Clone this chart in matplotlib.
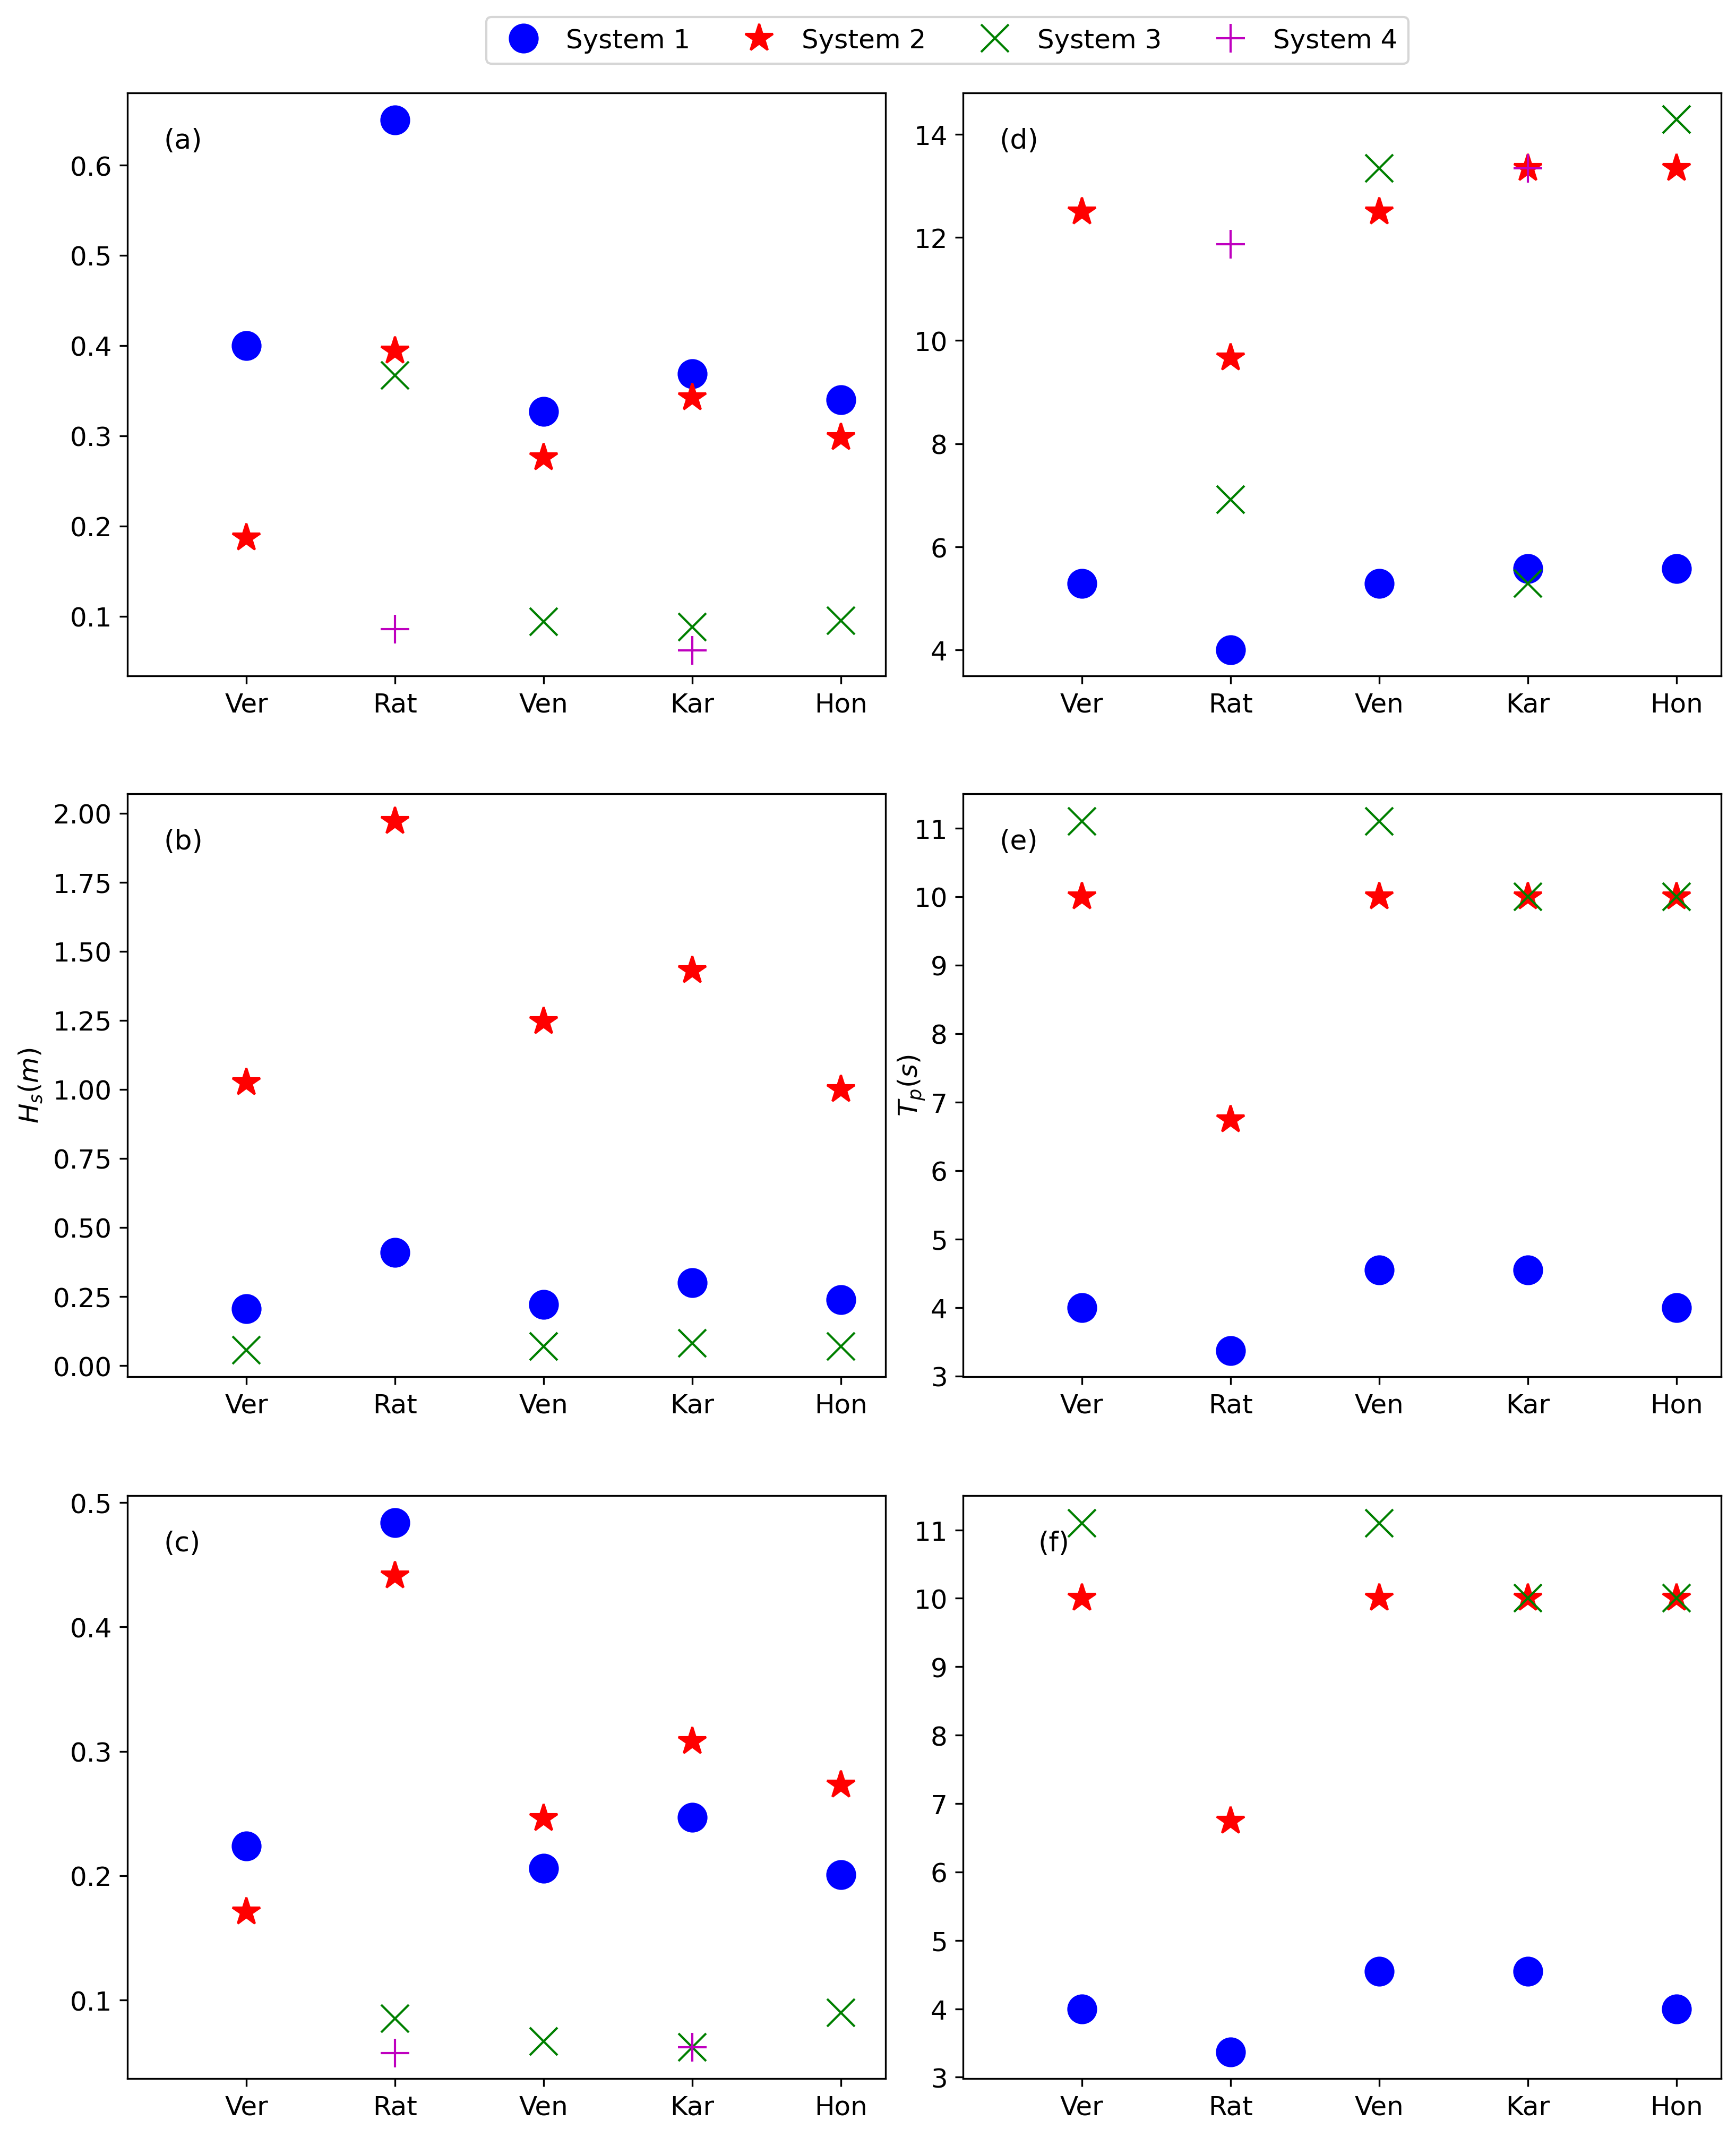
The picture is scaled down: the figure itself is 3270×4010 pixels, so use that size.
import numpy as np
import matplotlib
matplotlib.use("Agg")
import matplotlib.pyplot as plt

nan = np.nan
sites = ["Ver", "Rat", "Ven", "Kar", "Hon"]
systems = ["System 1", "System 2", "System 3", "System 4"]

# Panel (a)
a_s1 = [0.40, 0.65, 0.327, 0.369, 0.340]
a_s2 = [0.187, 0.394, 0.276, 0.342, 0.298]
a_s3 = [nan, 0.367, 0.094, 0.088, 0.095]
a_s4 = [nan, 0.086, nan, 0.062, nan]

# Panel (b)
b_s1 = [0.205, 0.41, 0.222, 0.300, 0.238]
b_s2 = [1.024, 1.97, 1.245, 1.431, 1.000]
b_s3 = [0.055, nan, 0.070, 0.080, 0.070]
b_s4 = [nan, nan, nan, nan, nan]

# Panel (c)
c_s1 = [0.224, 0.484, 0.206, 0.247, 0.201]
c_s2 = [0.171, 0.441, 0.246, 0.308, 0.273]
c_s3 = [nan, 0.085, 0.067, 0.062, 0.090]
c_s4 = [nan, 0.0575, nan, 0.062, nan]

# Panel (d)
d_s1 = [5.29, 4.0, 5.29, 5.58, 5.58]
d_s2 = [12.5, 9.66, 12.5, 13.34, 13.34]
d_s3 = [nan, 6.92, 13.34, 5.29, 14.29]
d_s4 = [nan, 11.87, nan, 13.34, nan]

# Panel (e)
e_s1 = [4.0, 3.37, 4.545, 4.545, 4.0]
e_s2 = [10.0, 6.74, 10.0, 10.0, 10.0]
e_s3 = [11.1, nan, 11.1, 10.0, 10.0]
e_s4 = [nan, nan, nan, nan, nan]

# Panel (f)
f_s1 = [4.0, 3.37, 4.545, 4.545, 4.0]
f_s2 = [10.0, 6.74, 10.0, 10.0, 10.0]
f_s3 = [11.1, nan, 11.1, 10.0, 10.0]
f_s4 = [nan, nan, nan, nan, nan]

plt.rcParams['font.family'] = ['DejaVu Sans']
plt.rcParams['font.size'] = 12

fig = plt.figure(figsize=(10.9, 13.37), dpi=300)

W = 0.4367
H = 0.2737
lefts = [0.0734, 0.5547]
bottoms = [0.6824, 0.3533, 0.0237]

panels = [
    ("(a)", 0, 0, [a_s1, a_s2, a_s3, a_s4], (0.034, 0.68), None, [0.1, 0.2, 0.3, 0.4, 0.5, 0.6], 0.048),
    ("(b)", 0, 1, [b_s1, b_s2, b_s3, b_s4], (-0.04, 2.07), r"$H_s(m)$", [0, 0.25, 0.5, 0.75, 1.0, 1.25, 1.5, 1.75, 2.0], 0.048),
    ("(c)", 0, 2, [c_s1, c_s2, c_s3, c_s4], (0.037, 0.5055), None, [0.1, 0.2, 0.3, 0.4, 0.5], 0.048),
    ("(d)", 1, 0, [d_s1, d_s2, d_s3, d_s4], (3.5, 14.8), None, [4, 6, 8, 10, 12, 14], 0.048),
    ("(e)", 1, 1, [e_s1, e_s2, e_s3, e_s4], (2.99, 11.5), r"$T_p(s)$", list(range(3, 12)), 0.048),
    ("(f)", 1, 2, [f_s1, f_s2, f_s3, f_s4], (2.98, 11.5), None, list(range(3, 12)), 0.099),
]

styles = [
    dict(marker='o', color='b', markersize=12.5),
    dict(marker='*', color='r', markersize=13),
    dict(marker='x', color='g', markersize=12.5, markeredgewidth=1.0),
    dict(marker='+', color='m', markersize=13, markeredgewidth=1.0),
]

x = np.arange(len(sites))
handles = None
for label, col, row, series, ylim, ylab, yticks, lx in panels:
    ax = fig.add_axes([lefts[col], bottoms[row], W, H])
    hs = []
    for vals, st, name in zip(series, styles, systems):
        h, = ax.plot(x, vals, linestyle='none', label=name, **st)
        hs.append(h)
    if handles is None:
        handles = hs
    ax.set_xlim(-0.8, 4.3)
    ax.set_ylim(*ylim)
    ax.set_xticks(x)
    ax.set_xticklabels(sites)
    ax.set_yticks(yticks)
    if label == "(b)":
        ax.set_yticklabels(["%.2f" % v for v in yticks])
    if ylab:
        pad = -6 if label == "(e)" else 4
        ax.set_ylabel(ylab, fontsize=12, labelpad=pad)
    ax.text(lx, 0.918, label, transform=ax.transAxes, va='center', ha='left', fontsize=12.5)
    ax.tick_params(labelsize=12)

fig.legend(handles=handles, labels=systems, loc='upper center', bbox_to_anchor=(0.5456, 0.9918),
           borderaxespad=0.0, ncol=4, fontsize=12, markerscale=1.0,
           handletextpad=0.6, columnspacing=1.6)

fig.savefig("out.png", dpi=300)
